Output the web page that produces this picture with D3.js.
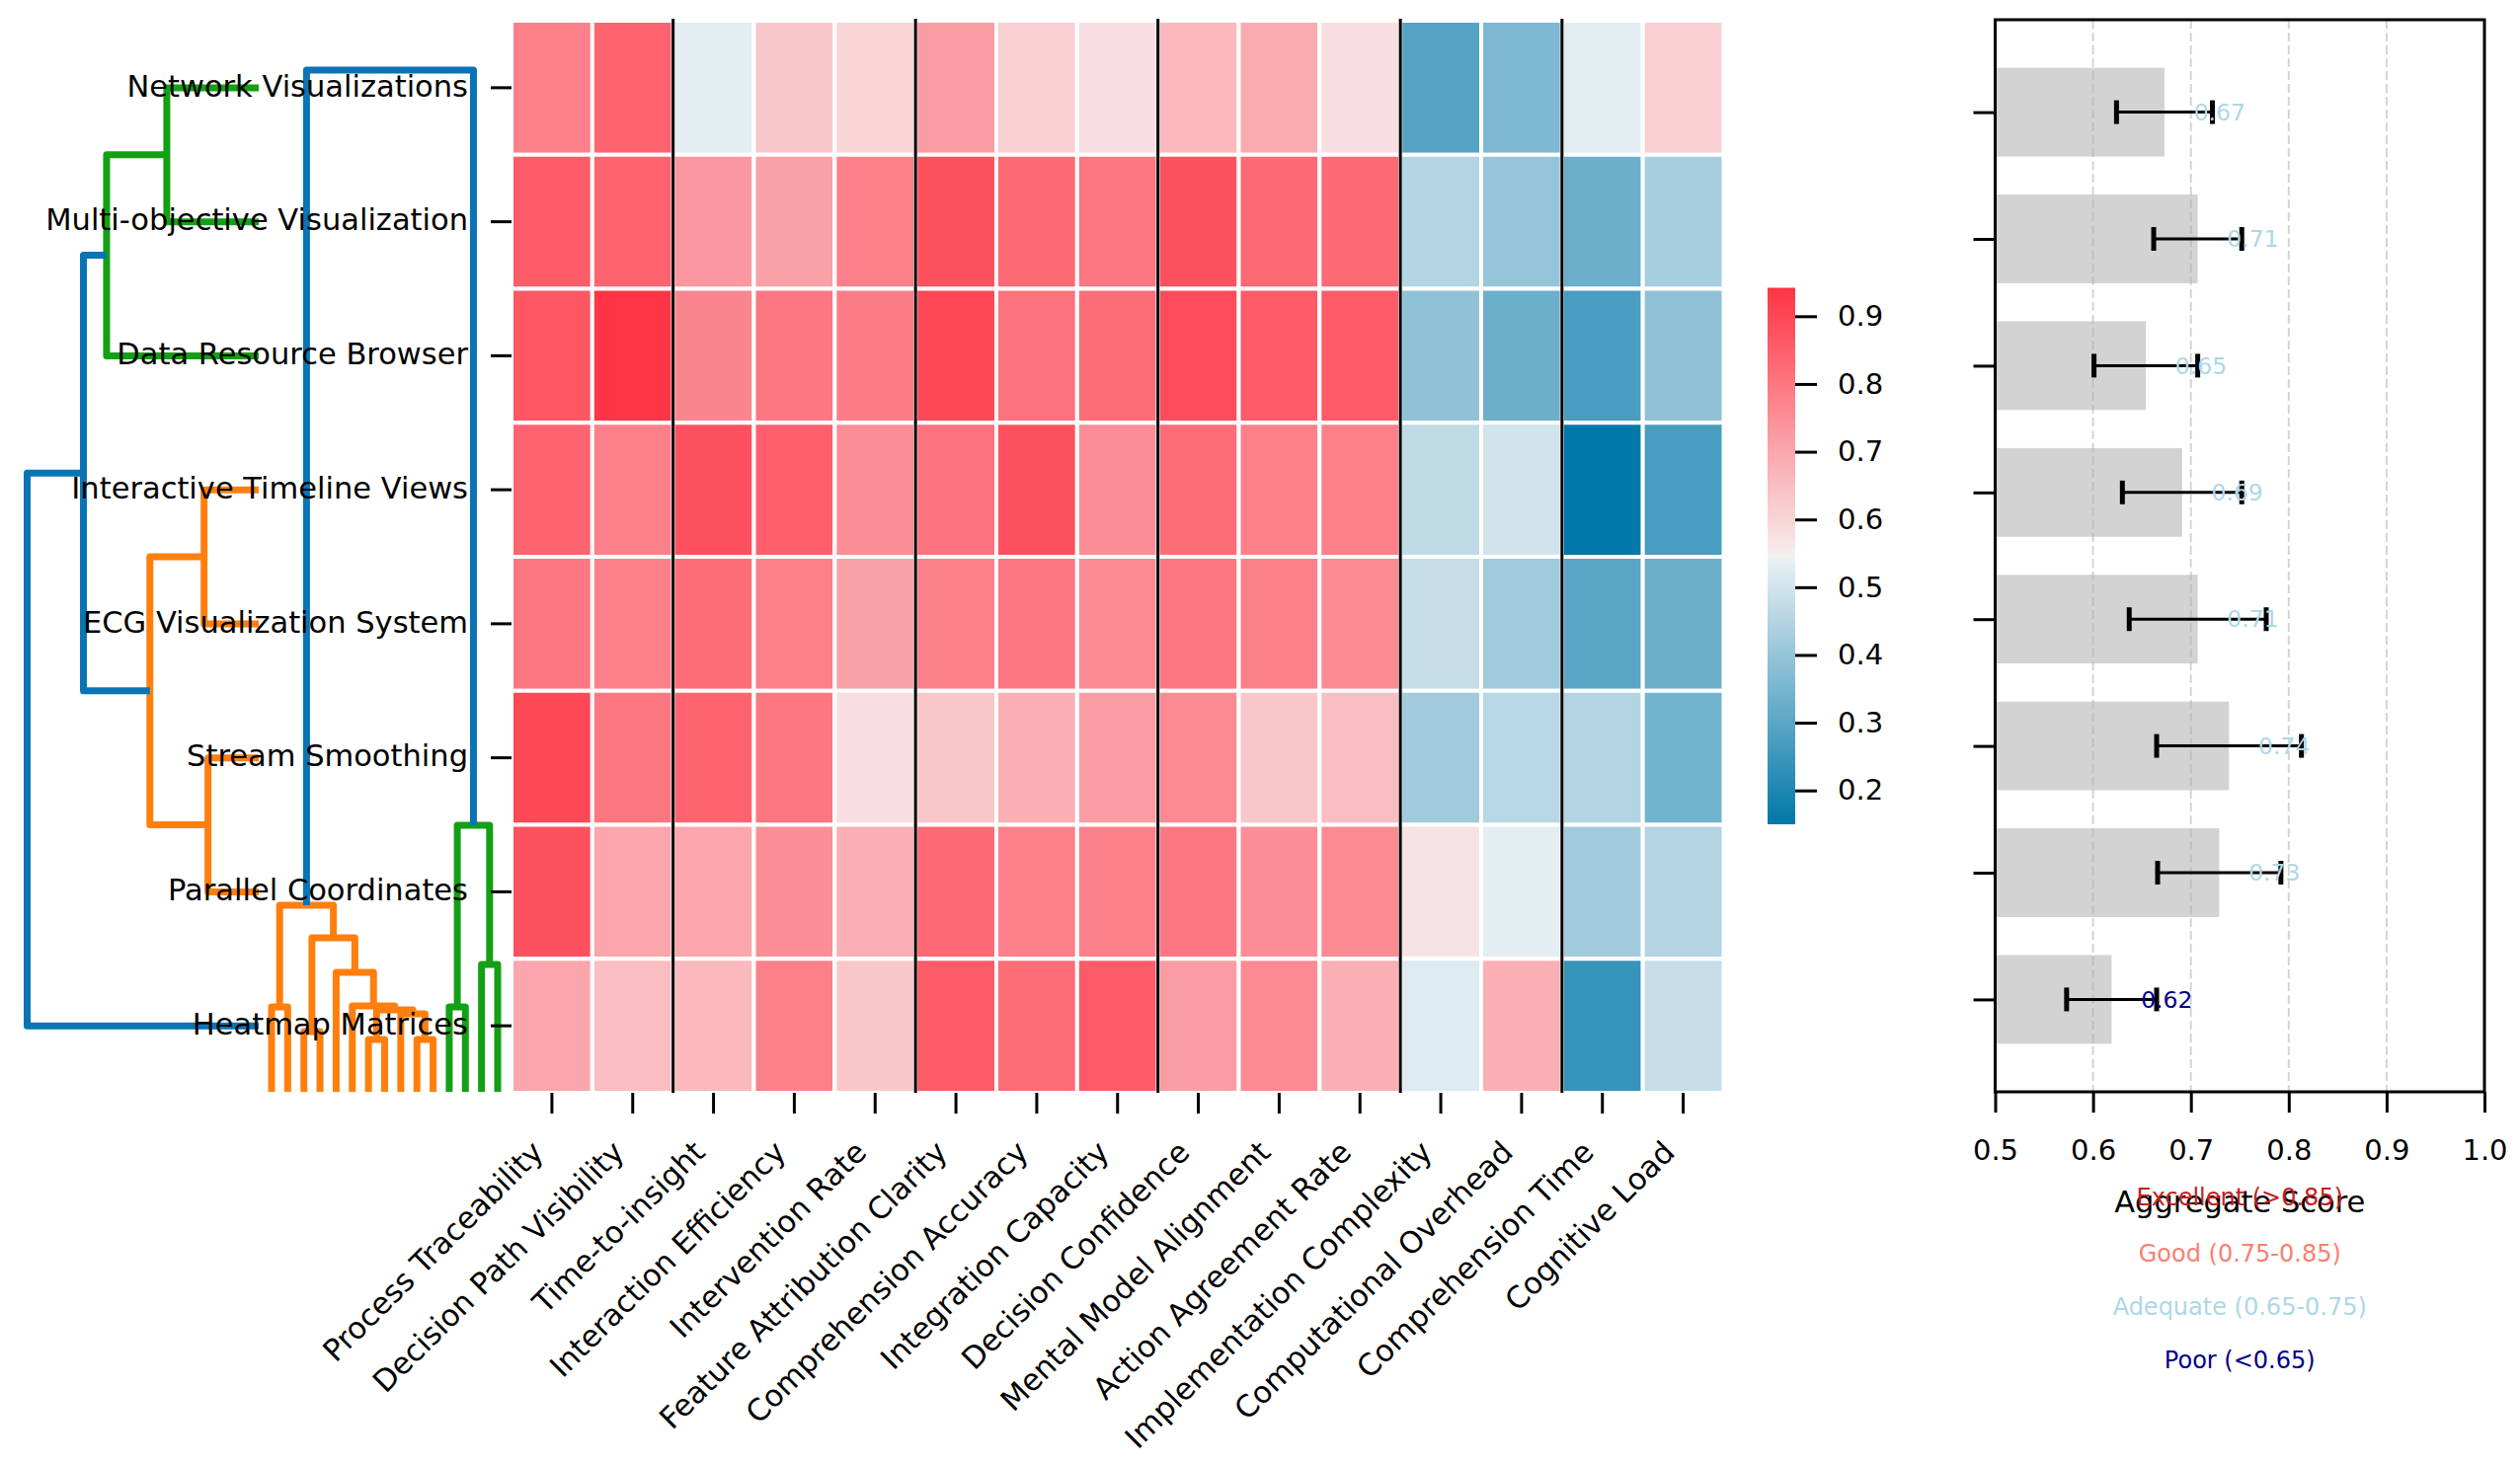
<!DOCTYPE html>
<html>
<head>
<meta charset="utf-8">
<script src="https://cdn.jsdelivr.net/npm/d3@7"></script>
<style>
  body { margin: 0; background: #ffffff; }
  svg { display: block; }
  text { font-family: "DejaVu Sans", sans-serif; fill: #000; }
</style>
</head>
<body>
<svg id="chart" width="2552" height="1483"></svg>
<script>
// ---------------- DATA ----------------
const rowLabels = ["Network Visualizations", "Multi-objective Visualization", "Data Resource Browser",
  "Interactive Timeline Views", "ECG Visualization System", "Stream Smoothing",
  "Parallel Coordinates", "Heatmap Matrices"];

const metricLabels = ["Process Traceability", "Decision Path Visibility", "Time-to-insight",
  "Interaction Efficiency", "Intervention Rate", "Feature Attribution Clarity",
  "Comprehension Accuracy", "Integration Capacity", "Decision Confidence",
  "Mental Model Alignment", "Action Agreement Rate", "Implementation Complexity",
  "Computational Overhead", "Comprehension Time", "Cognitive Load"];

const networkVis      = [0.78, 0.84, 0.53, 0.63, 0.60, 0.72, 0.61, 0.58, 0.66, 0.69, 0.58, 0.29, 0.36, 0.53, 0.61];
const multiObjective  = [0.86, 0.84, 0.73, 0.71, 0.78, 0.88, 0.83, 0.80, 0.88, 0.83, 0.83, 0.45, 0.40, 0.33, 0.43];
const dataResource    = [0.87, 0.942, 0.77, 0.80, 0.79, 0.90, 0.81, 0.82, 0.89, 0.86, 0.86, 0.39, 0.33, 0.27, 0.39];
const timelineViews   = [0.84, 0.78, 0.88, 0.85, 0.75, 0.81, 0.88, 0.75, 0.82, 0.78, 0.78, 0.47, 0.50, 0.15, 0.27];
const ecgSystem       = [0.80, 0.78, 0.82, 0.78, 0.71, 0.78, 0.80, 0.76, 0.80, 0.78, 0.76, 0.48, 0.42, 0.30, 0.33];
const streamSmoothing = [0.90, 0.80, 0.84, 0.80, 0.58, 0.63, 0.68, 0.72, 0.76, 0.63, 0.65, 0.42, 0.46, 0.45, 0.34];
const parallelCoords  = [0.88, 0.70, 0.70, 0.75, 0.68, 0.83, 0.78, 0.78, 0.80, 0.75, 0.76, 0.57, 0.53, 0.42, 0.45];
const heatmapMatrices = [0.70, 0.65, 0.66, 0.78, 0.63, 0.86, 0.82, 0.86, 0.72, 0.76, 0.68, 0.52, 0.68, 0.24, 0.48];
const scoreMatrix = [networkVis, multiObjective, dataResource, timelineViews, ecgSystem,
  streamSmoothing, parallelCoords, heatmapMatrices];

// metric group separators: index of first column of each new group
const groupStarts = [2, 5, 8, 11, 13];

// aggregate score per approach (same order as rows) and its error
const aggScores = [0.673, 0.707, 0.654, 0.691, 0.707, 0.739, 0.729, 0.619];
const aggErrors = [0.049, 0.045, 0.053, 0.061, 0.070, 0.074, 0.063, 0.046];

const colorbarTicks = [0.2, 0.3, 0.4, 0.5, 0.6, 0.7, 0.8, 0.9];
const aggTicks = [0.5, 0.6, 0.7, 0.8, 0.9, 1.0];
const aggGrid = [0.6, 0.7, 0.8, 0.9];

const tierLabels = ["Excellent (>0.85)", "Good (0.75-0.85)", "Adequate (0.65-0.75)", "Poor (<0.65)"];
const tierLower = [0.85, 0.75, 0.65, -Infinity];

// row dendrogram (scipy-style linkage: childA, childB, distance); leaves 0..7 = rows
const rowLinkage = [
  [0, 1, 0.397],
  [2, 8, 0.657],
  [5, 6, 0.219],
  [3, 4, 0.236],
  [11, 10, 0.470],
  [9, 12, 0.757],
  [13, 7, 1.000]
];
const rowLinkCluster = ["g", "g", "o", "o", "o", "b", "b"];

// column dendrogram; leaves 0..14
const colLinkage = [
  [9, 10, 0.53],
  [6, 7, 0.53],
  [2, 3, 0.61],
  [8, 15, 0.79],
  [16, 18, 0.83],
  [0, 1, 0.86],
  [5, 19, 0.87],
  [4, 21, 1.21],
  [17, 22, 1.56],
  [20, 23, 1.89],
  [11, 12, 0.86],
  [13, 14, 1.29],
  [25, 26, 2.70],
  [24, 27, 10.35]
];
const colLinkCluster = ["o", "o", "o", "o", "o", "o", "o", "o", "o", "o", "g", "g", "g", "b"];

// ---------------- STYLE ----------------
const clusterColors = { o: "#ff7f0e", g: "#14a014", b: "#0a74b4" };
const tierColors = ["#c81e1e", "#fa8072", "#add8e6", "#00008b"];
const blueEnd = "#0078a9", blueLight = "#ebf1f4", midGray = "#f2f2f2", redLight = "#f7eded", redEnd = "#ff3444";

const svg = d3.select("#chart");
const hm = { left: 518, right: 1745.5, top: 21, bottom: 1107 };
const br = { left: 2020.5, right: 2516, top: 20, bottom: 1106 };
const cb = { x: 1790, w: 28, top: 291.5, bottom: 835 };

const allVals = scoreMatrix.flat();
const vmin = d3.min(allVals), vmax = d3.max(allVals);
const eps = (vmax - vmin) / 256;
const vmid = (vmin + vmax) / 2;
const color = d3.scaleLinear()
  .domain([vmin, vmid - eps, vmid, vmid + eps, vmax])
  .range([blueEnd, blueLight, midGray, redLight, redEnd])
  .interpolate(d3.interpolateRgb)
  .clamp(true);

const xCell = d3.scaleBand().domain(metricLabels).range([hm.left, hm.right]);
const yCell = d3.scaleBand().domain(rowLabels).range([hm.top, hm.bottom]);

// ---------------- DENDROGRAMS ----------------
function dendroLinks(linkage, nLeaves) {
  const pos = [], hgt = [];
  for (let i = 0; i < nLeaves; i++) { pos[i] = i; hgt[i] = 0; }
  return linkage.map((l, k) => {
    const [a, b, h] = l;
    const id = nLeaves + k;
    pos[id] = (pos[a] + pos[b]) / 2;
    hgt[id] = h;
    return [[pos[a], hgt[a]], [pos[a], h], [pos[b], h], [pos[b], hgt[b]]];
  });
}

const gDendro = svg.append("g");
// row dendrogram (horizontal, leaves on the right)
const rowLeafY = d3.scaleLinear().domain([0, rowLabels.length - 1])
  .range([yCell(rowLabels[0]) + yCell.bandwidth() / 2, yCell(rowLabels[rowLabels.length - 1]) + yCell.bandwidth() / 2]);
const rowDistX = d3.scaleLinear().domain([0, 1]).range([262, 27.5]);
const rowLine = d3.line().x(d => rowDistX(d[1])).y(d => rowLeafY(d[0]));
gDendro.selectAll("path.rowlink").data(dendroLinks(rowLinkage, rowLabels.length))
  .join("path").attr("class", "rowlink")
  .attr("d", rowLine)
  .attr("fill", "none")
  .attr("stroke", (d, i) => clusterColors[rowLinkCluster[i]])
  .attr("stroke-width", 7)
  .attr("stroke-linejoin", "round");

// column dendrogram (vertical, leaves at bottom)
const colLeafX = d3.scaleLinear().domain([0, metricLabels.length - 1]).range([275, 504]);
const colDistY = d3.scaleLinear().domain([0, 10.35]).range([1106, 71]);
const colLine = d3.line().x(d => colLeafX(d[0])).y(d => colDistY(d[1]));
gDendro.selectAll("path.collink").data(dendroLinks(colLinkage, metricLabels.length))
  .join("path").attr("class", "collink")
  .attr("d", colLine)
  .attr("fill", "none")
  .attr("stroke", (d, i) => clusterColors[colLinkCluster[i]])
  .attr("stroke-width", 7)
  .attr("stroke-linejoin", "round");

// ---------------- HEATMAP ----------------
const cells = [];
scoreMatrix.forEach((row, r) => row.forEach((v, c) => cells.push({ r: rowLabels[r], c: metricLabels[c], v })));
svg.append("g").selectAll("rect").data(cells).join("rect")
  .attr("x", d => xCell(d.c))
  .attr("y", d => yCell(d.r))
  .attr("width", xCell.bandwidth())
  .attr("height", yCell.bandwidth())
  .attr("fill", d => color(d.v))
  .attr("stroke", "#ffffff")
  .attr("stroke-width", 4);

// group separators
svg.append("g").selectAll("line").data(groupStarts).join("line")
  .attr("x1", d => xCell(metricLabels[d])).attr("x2", d => xCell(metricLabels[d]))
  .attr("y1", hm.top - 2).attr("y2", hm.bottom)
  .attr("stroke", "#000").attr("stroke-width", 3);

// heatmap axes
const yAxisG = svg.append("g").attr("transform", `translate(${hm.left},0)`)
  .call(d3.axisLeft(yCell).tickSize(21).tickPadding(23));
yAxisG.select(".domain").remove();
yAxisG.selectAll(".tick line").attr("stroke", "#000").attr("stroke-width", 3);
yAxisG.selectAll(".tick text").attr("font-size", 30.5).attr("dy", "0.29em")
  .style("font-family", '"DejaVu Sans", sans-serif');
yAxisG.attr("font-family", null).attr("font-size", null);

const xAxisG = svg.append("g").attr("transform", `translate(0,${hm.bottom})`)
  .call(d3.axisBottom(xCell).tickSize(21));
xAxisG.select(".domain").remove();
xAxisG.selectAll(".tick line").attr("stroke", "#000").attr("stroke-width", 3);
xAxisG.selectAll(".tick text")
  .attr("font-size", 30.5)
  .attr("x", 0).attr("y", 0).attr("dy", 0)
  .attr("text-anchor", "end")
  .attr("transform", "translate(-7,62) rotate(-45)")
  .style("font-family", '"DejaVu Sans", sans-serif');
xAxisG.attr("font-family", null).attr("font-size", null);

// ---------------- COLORBAR ----------------
const defs = svg.append("defs");
const grad = defs.append("linearGradient").attr("id", "cbgrad")
  .attr("x1", 0).attr("y1", 1).attr("x2", 0).attr("y2", 0);
grad.selectAll("stop").data(d3.range(0, 1.0001, 1 / 64)).join("stop")
  .attr("offset", d => d)
  .attr("stop-color", d => color(vmin + d * (vmax - vmin)));
const cbScale = d3.scaleLinear().domain([vmin, vmax]).range([cb.bottom, cb.top]);
svg.append("rect").attr("x", cb.x).attr("y", cb.top).attr("width", cb.w)
  .attr("height", cb.bottom - cb.top).attr("fill", "url(#cbgrad)");
const cbAxis = svg.append("g").attr("transform", `translate(${cb.x + cb.w},0)`)
  .call(d3.axisRight(cbScale).tickValues(colorbarTicks).tickFormat(d3.format(".1f")).tickSize(22).tickPadding(21));
cbAxis.select(".domain").remove();
cbAxis.selectAll(".tick line").attr("stroke", "#000").attr("stroke-width", 3);
cbAxis.selectAll(".tick text").attr("font-size", 29).style("font-family", '"DejaVu Sans", sans-serif');
cbAxis.attr("font-family", null).attr("font-size", null);

// ---------------- AGGREGATE BAR CHART ----------------
const xAgg = d3.scaleLinear().domain([0.5, 1.0]).range([br.left, br.right]);
const yAgg = d3.scaleLinear().domain([-0.729, rowLabels.length - 1 + 0.729]).range([br.top, br.bottom]);
const barH = yAgg(0.35) - yAgg(-0.35);
const aggData = aggScores.map((v, i) => ({ i, v, e: aggErrors[i] }));
const tierOf = v => tierLower.findIndex(t => v >= t);

const gBar = svg.append("g");
gBar.selectAll("rect").data(aggData).join("rect")
  .attr("x", xAgg(0.5))
  .attr("y", d => yAgg(d.i) - barH / 2)
  .attr("width", d => xAgg(d.v) - xAgg(0.5))
  .attr("height", barH)
  .attr("fill", "#d3d3d3");

// grid
gBar.selectAll("line.grid").data(aggGrid).join("line").attr("class", "grid")
  .attr("x1", d => xAgg(d)).attr("x2", d => xAgg(d))
  .attr("y1", br.top).attr("y2", br.bottom)
  .attr("stroke", "#b0b0b0").attr("stroke-opacity", 0.55)
  .attr("stroke-width", 2).attr("stroke-dasharray", "9,4");

// error bars
const gErr = gBar.append("g");
gErr.selectAll("line.eb").data(aggData).join("line").attr("class", "eb")
  .attr("x1", d => xAgg(d.v - d.e)).attr("x2", d => xAgg(d.v + d.e))
  .attr("y1", d => yAgg(d.i)).attr("y2", d => yAgg(d.i))
  .attr("stroke", "#000").attr("stroke-width", 3);
["lo", "hi"].forEach(side => {
  gErr.selectAll("line.cap" + side).data(aggData).join("line").attr("class", "cap" + side)
    .attr("x1", d => xAgg(side === "lo" ? d.v - d.e : d.v + d.e))
    .attr("x2", d => xAgg(side === "lo" ? d.v - d.e : d.v + d.e))
    .attr("y1", d => yAgg(d.i) - 12).attr("y2", d => yAgg(d.i) + 12)
    .attr("stroke", "#000").attr("stroke-width", 5);
});

// value labels
gBar.selectAll("text.val").data(aggData).join("text").attr("class", "val")
  .attr("x", d => xAgg(d.v + 0.03))
  .attr("y", d => yAgg(d.i))
  .attr("dy", "0.35em")
  .attr("font-size", 23.5)
  .style("fill", d => tierColors[tierOf(d.v)])
  .text(d => d3.format(".2f")(d.v));

// axes
const xAggAxis = svg.append("g").attr("transform", `translate(0,${br.bottom})`)
  .call(d3.axisBottom(xAgg).tickValues(aggTicks).tickFormat(d3.format(".1f")).tickSize(21).tickPadding(27));
xAggAxis.select(".domain").remove();
xAggAxis.selectAll(".tick line").attr("stroke", "#000").attr("stroke-width", 3);
xAggAxis.selectAll(".tick text").attr("font-size", 29).style("font-family", '"DejaVu Sans", sans-serif');
xAggAxis.attr("font-family", null).attr("font-size", null);

const yAggAxis = svg.append("g").attr("transform", `translate(${br.left},0)`)
  .call(d3.axisLeft(yAgg).tickValues(d3.range(rowLabels.length)).tickFormat("").tickSize(22));
yAggAxis.select(".domain").remove();
yAggAxis.selectAll(".tick line").attr("stroke", "#000").attr("stroke-width", 3);

// spines
svg.append("rect").attr("x", br.left).attr("y", br.top)
  .attr("width", br.right - br.left).attr("height", br.bottom - br.top)
  .attr("fill", "none").attr("stroke", "#000").attr("stroke-width", 3);

// axis title and tier legend (the legend's first entry sits on the title, as in the source)
const cx = (br.left + br.right) / 2;
svg.append("text").attr("x", cx).attr("y", 1228).attr("text-anchor", "middle")
  .attr("font-size", 30.5).text("Aggregate Score");
const tierY = [1221, 1278, 1332, 1386];
svg.append("g").selectAll("text").data(tierLabels).join("text")
  .attr("x", cx).attr("y", (d, i) => tierY[i]).attr("text-anchor", "middle")
  .attr("font-size", 24)
  .style("fill", (d, i) => tierColors[i])
  .text(d => d);
</script>
</body>
</html>
